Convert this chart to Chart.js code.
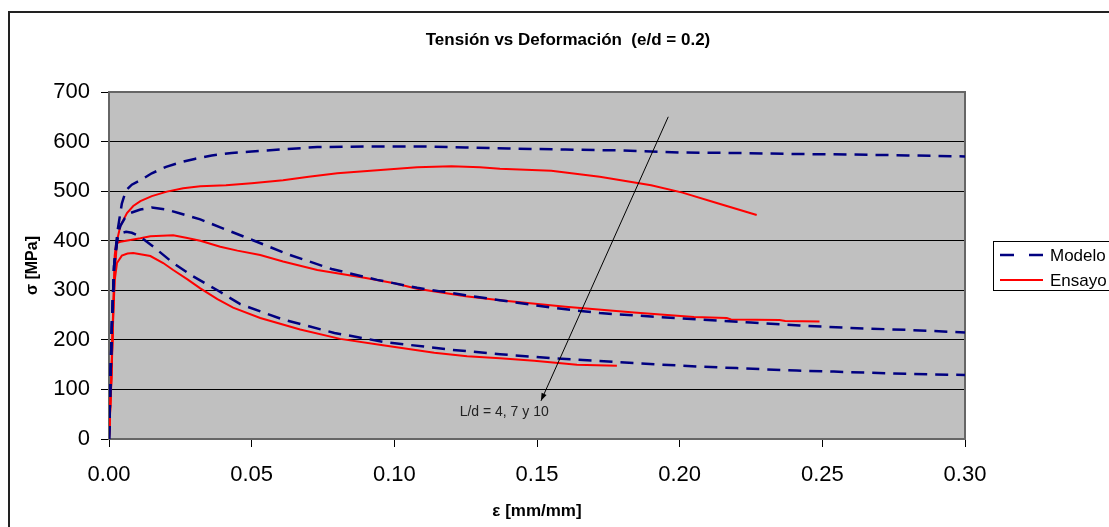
<!DOCTYPE html>
<html>
<head>
<meta charset="utf-8">
<script src="https://cdn.jsdelivr.net/npm/chart.js@4"></script>
<style>
  html, body { margin: 0; padding: 0; background: #fff; overflow: hidden; }
  #wrap { position: absolute; left: 8px; top: 11px; width: 1120px; height: 530px; }
</style>
</head>
<body>
<div id="wrap"><canvas id="chart"></canvas></div>
<script>
  // strain [mm/mm], stress [MPa]
  const modelo1 = [[0,0],[0.001,230],[0.0018,350],[0.003,420],[0.0045,475],[0.006,502],[0.008,513],[0.011,522],[0.015,536],[0.02,549],[0.025,558],[0.03,565],[0.036,572],[0.043,577],[0.05,580],[0.06,584],[0.073,589],[0.09,590],[0.11,590],[0.125,588],[0.14,586],[0.16,584],[0.18,582],[0.2,578],[0.22,577],[0.24,575],[0.26,574],[0.28,572],[0.30,570]];
  const modelo2 = [[0,0],[0.001,230],[0.0018,350],[0.003,410],[0.004,430],[0.0055,445],[0.0075,456],[0.011,463],[0.015,467],[0.02,463],[0.025,455],[0.032,443],[0.039,427],[0.05,402],[0.063,372],[0.078,343],[0.094,321],[0.108,305],[0.125,290],[0.137,280],[0.155,265],[0.172,254],[0.19,247],[0.207,241],[0.225,235],[0.242,229],[0.26,224],[0.28,220],[0.30,215]];
  const modelo3 = [[0,0],[0.001,230],[0.0018,350],[0.003,405],[0.004,415],[0.006,418],[0.008,416],[0.011,408],[0.0155,388],[0.0225,355],[0.0295,328],[0.038,300],[0.046,272],[0.061,241],[0.079,214],[0.096,196],[0.12,180],[0.137,171],[0.155,163],[0.184,153],[0.207,146],[0.22,143],[0.241,138],[0.254,136],[0.275,132],[0.30,129]];
  const ensayo1 = [[0,0],[0.0008,120],[0.0015,260],[0.002,330],[0.0028,400],[0.004,430],[0.0063,456],[0.0085,470],[0.011,480],[0.015,490],[0.0203,499],[0.026,506],[0.032,510],[0.041,512],[0.05,516],[0.061,522],[0.07,529],[0.08,536],[0.094,542],[0.108,548],[0.12,550],[0.13,548],[0.137,545],[0.155,541],[0.172,529],[0.19,512],[0.201,497],[0.213,476],[0.227,452]];
  const ensayo2 = [[0,0],[0.0008,120],[0.0015,270],[0.002,370],[0.0025,395],[0.004,398],[0.008,402],[0.011,405],[0.0145,409],[0.0225,411],[0.027,406],[0.032,400],[0.039,388],[0.045,380],[0.053,371],[0.061,358],[0.073,341],[0.09,325],[0.1,314],[0.108,303],[0.125,288],[0.137,280],[0.16,267],[0.184,255],[0.205,246],[0.2165,244],[0.218,241],[0.235,240],[0.237,238],[0.249,237]];
  const ensayo3 = [[0,0],[0.0008,110],[0.0015,250],[0.002,320],[0.0028,355],[0.0045,370],[0.0065,374],[0.0085,375],[0.0145,369],[0.019,355],[0.0225,341],[0.0275,322],[0.032,304],[0.038,282],[0.0435,265],[0.053,244],[0.067,221],[0.081,202],[0.096,189],[0.114,174],[0.1255,167],[0.137,163],[0.149,158],[0.164,150],[0.178,148]];

  const seriesLabels = ['Modelo', 'Ensayo'];
  const xTicks = [0, 0.05, 0.10, 0.15, 0.20, 0.25, 0.30];
  const yTicks = [0, 100, 200, 300, 400, 500, 600, 700];
  const chartTitle = 'Tensión vs Deformación  (e/d = 0.2)';

  // annotation arrow (data coords) and its label
  const arrowPts = [[0.196, 650], [0.1514, 77]];
  const noteText = 'L/d = 4, 7 y 10';
  const notePos = [0.1385, 55];

  const FONT = '"Liberation Sans", Arial, sans-serif';
  const NAVY = '#000080';
  const RED = '#FF0000';

  const toXY = arr => arr.map(p => ({ x: p[0], y: p[1] }));
  const modeloStyle = { borderColor: NAVY, borderWidth: 2.5, borderDash: [13, 8], pointRadius: 0, showLine: true, fill: false };
  const ensayoStyle = { borderColor: RED, borderWidth: 2, pointRadius: 0, showLine: true, fill: false };

  const datasets = [
    { label: seriesLabels[0], data: toXY(modelo1), ...modeloStyle },
    { label: seriesLabels[0], data: toXY(modelo2), ...modeloStyle },
    { label: seriesLabels[0], data: toXY(modelo3), ...modeloStyle },
    { label: seriesLabels[1], data: toXY(ensayo1), ...ensayoStyle },
    { label: seriesLabels[1], data: toXY(ensayo2), ...ensayoStyle },
    { label: seriesLabels[1], data: toXY(ensayo3), ...ensayoStyle },
  ];

  const deco = {
    id: 'deco',
    beforeDraw(chart) {
      const { ctx, chartArea: a } = chart;
      ctx.save();
      ctx.fillStyle = '#fff';
      ctx.fillRect(0, 0, chart.width, chart.height);
      ctx.strokeStyle = '#222';
      ctx.lineWidth = 2;
      ctx.strokeRect(1, 1, chart.width - 2, chart.height - 2);
      ctx.fillStyle = '#C0C0C0';
      ctx.fillRect(a.left, a.top, a.right - a.left, a.bottom - a.top);
      // title, centred on the whole chart box
      ctx.fillStyle = '#000';
      ctx.font = 'bold 17px ' + FONT;
      ctx.textAlign = 'center';
      ctx.textBaseline = 'middle';
      ctx.fillText(chartTitle, chart.width / 2, 29);
      ctx.restore();
    },
    beforeDatasetsDraw(chart) {
      const { ctx, chartArea: a } = chart;
      ctx.save();
      ctx.strokeStyle = '#666';
      ctx.lineWidth = 2;
      ctx.strokeRect(a.left, a.top, a.right - a.left, a.bottom - a.top);
      ctx.restore();
    },
    afterDraw(chart) {
      const { ctx, scales: { x, y } } = chart;
      ctx.save();
      // arrow
      const x1 = x.getPixelForValue(arrowPts[0][0]), y1 = y.getPixelForValue(arrowPts[0][1]);
      const x2 = x.getPixelForValue(arrowPts[1][0]), y2 = y.getPixelForValue(arrowPts[1][1]);
      ctx.strokeStyle = '#000';
      ctx.fillStyle = '#000';
      ctx.lineWidth = 1;
      ctx.beginPath(); ctx.moveTo(x1, y1); ctx.lineTo(x2, y2); ctx.stroke();
      const ang = Math.atan2(y2 - y1, x2 - x1), len = 8, w = 0.35;
      ctx.beginPath();
      ctx.moveTo(x2, y2);
      ctx.lineTo(x2 - len * Math.cos(ang - w), y2 - len * Math.sin(ang - w));
      ctx.lineTo(x2 - len * Math.cos(ang + w), y2 - len * Math.sin(ang + w));
      ctx.closePath(); ctx.fill();
      // note
      ctx.font = '14px ' + FONT;
      ctx.textAlign = 'center';
      ctx.textBaseline = 'middle';
      ctx.fillStyle = '#222';
      ctx.fillText(noteText, x.getPixelForValue(notePos[0]), y.getPixelForValue(notePos[1]));
      // legend
      const lx = 985, ly = 230;
      ctx.strokeStyle = '#000';
      ctx.lineWidth = 1;
      ctx.strokeRect(lx + 0.5, ly + 0.5, 200, 49);
      ctx.font = '17px ' + FONT;
      ctx.textAlign = 'left';
      ctx.fillStyle = '#000';
      [[modeloStyle, 14], [ensayoStyle, 39]].forEach(([st, dy], i) => {
        ctx.beginPath();
        ctx.strokeStyle = st.borderColor;
        ctx.lineWidth = st.borderWidth;
        ctx.setLineDash(st.borderDash ? [14, 15] : []);
        ctx.moveTo(lx + 7, ly + dy); ctx.lineTo(lx + 50, ly + dy);
        ctx.stroke();
        ctx.setLineDash([]);
        ctx.fillText(seriesLabels[i], lx + 57, ly + dy + 1);
      });
      ctx.restore();
    }
  };

  new Chart(document.getElementById('chart'), {
    type: 'scatter',
    data: { datasets },
    options: {
      responsive: true,
      maintainAspectRatio: false,
      animation: false,
      layout: { padding: { left: 0, right: 163, top: 81, bottom: 0 } },
      plugins: {
        legend: { display: false },
        tooltip: { enabled: false },
        title: { display: false }
      },
      scales: {
        x: {
          type: 'linear',
          min: 0, max: 0.3,
          afterBuildTicks: s => { s.ticks = xTicks.map(v => ({ value: v })); },
          afterFit: s => { s.height = 102; },
          ticks: { color: '#000', font: { family: FONT, size: 22 }, padding: 15, callback: v => Number(v).toFixed(2) },
          grid: { drawOnChartArea: false, drawTicks: true, tickLength: 8, color: '#000' },
          border: { display: false },
          title: { display: true, text: 'ε [mm/mm]', color: '#000', font: { family: FONT, size: 17, weight: 'bold' }, padding: { top: 4, bottom: 19 } }
        },
        y: {
          type: 'linear',
          min: 0, max: 700,
          afterBuildTicks: s => { s.ticks = yTicks.map(v => ({ value: v })); },
          afterFit: s => { s.width = 101; },
          ticks: { color: '#000', font: { family: FONT, size: 22 }, padding: 11 },
          grid: { color: '#000', lineWidth: 1, tickLength: 8 },
          border: { display: false },
          title: { display: true, text: 'σ [MPa]', color: '#000', font: { family: FONT, size: 16, weight: 'bold' }, padding: { top: 15, bottom: 0 } }
        }
      }
    },
    plugins: [deco]
  });
</script>
</body>
</html>
